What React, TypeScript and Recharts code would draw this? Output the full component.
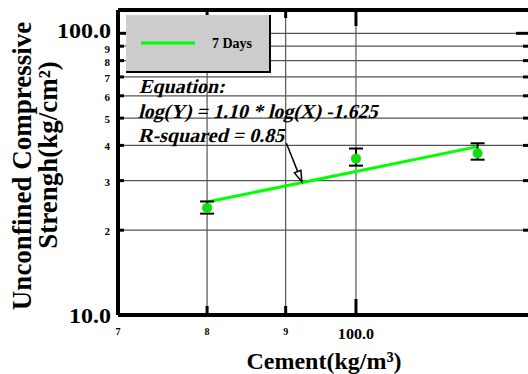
import React from "react";
import {
  ComposedChart, Line, Scatter, XAxis, YAxis, CartesianGrid, ErrorBar, ReferenceLine,
} from "recharts";

// measured 7-day strengths (kg/cm2) vs cement content (kg/m3)
const cement = [80, 100, 120];
const strength = [24.0, 35.9, 37.5];
const errLow = [1.1, 2.0, 1.9];
const errHigh = [1.3, 3.1, 3.2];

// fitted line end points
const fitX = [80, 120];
const fitY = [25.2, 39.6];

const xTicks = [70, 80, 90, 100];
const xTickLabels = ["7", "8", "9", "100.0"];
const yTicks = [10, 20, 30, 40, 50, 60, 70, 80, 90, 100];
const yTickLabels = ["10.0", "2", "3", "4", "5", "6", "7", "8", "9", "100.0"];

const arrowFrom = { x: 90.1, y: 40.7 };
const arrowTo = { x: 92.2, y: 29.7 };

const points = cement.map((c, i) => ({ x: c, y: strength[i], err: [errLow[i], errHigh[i]] }));
const fit = fitX.map((x, i) => ({ x, y: fitY[i] }));

const FONT = "Liberation Serif";
const GREEN = "#00ff00";

const YTick = (props: any) => {
  const { x, y, payload } = props;
  const i = yTicks.indexOf(payload.value);
  const big = payload.value === 10 || payload.value === 100;
  const dy = payload.value === 100 ? 5 : big ? 8 : payload.value === 90 ? 7 : 5;
  return (
    <g>
      {payload.value !== 10 && (
        <line x1={x} y1={y} x2={x + (big ? 10 : 6)} y2={y} stroke="#000" strokeWidth={3} />
      )}
      <text
        transform={`translate(${big ? x - 7 : x - 8},${y + dy}) scale(${big ? 1.2 : 1},1)`}
        textAnchor="end"
        fontFamily={FONT}
        fontWeight="bold"
        fontSize={big ? 20 : 11}
        fill="#000"
      >
        {yTickLabels[i]}
      </text>
    </g>
  );
};

const RightTick = (props: any) => {
  const { x, y, payload } = props;
  if (payload.value === 10) return <g />;
  return <line x1={x} y1={y} x2={x - (payload.value === 100 ? 15 : 8)} y2={y} stroke="#000" strokeWidth={3} />;
};

const XTick = (props: any) => {
  const { x, y, payload } = props;
  const i = xTicks.indexOf(payload.value);
  const big = payload.value === 100;
  return (
    <g>
      {payload.value !== 70 && (
        <line x1={x} y1={y} x2={x} y2={y - (big ? 16 : 9)} stroke="#000" strokeWidth={3} />
      )}
      <text
        transform={`translate(${x},${y + (big ? 24 : 20)}) scale(${big ? 1.15 : 1},1)`}
        textAnchor="middle"
        fontFamily={FONT}
        fontWeight="bold"
        fontSize={big ? 14 : 10}
        fill="#000"
      >
        {xTickLabels[i]}
      </text>
    </g>
  );
};

const TopTick = (props: any) => {
  const { x, y, payload } = props;
  if (payload.value === 70) return <g />;
  return <line x1={x} y1={y} x2={x} y2={y + (payload.value === 100 ? 16 : 8)} stroke="#000" strokeWidth={3} />;
};

const Arrow = (props: any) => {
  const { x1, y1, x2, y2 } = props;
  if (x1 == null) return <g />;
  const a = Math.atan2(y2 - y1, x2 - x1);
  const L = 11, W = 3.5;
  const bx = x2 - L * Math.cos(a), by = y2 - L * Math.sin(a);
  const px = -Math.sin(a) * W, py = Math.cos(a) * W;
  return (
    <g>
      <line x1={x1} y1={y1} x2={bx} y2={by} stroke="#000" strokeWidth={1.5} />
      <polygon
        points={`${x2},${y2} ${bx + px},${by + py} ${bx - px},${by - py}`}
        fill="#fff"
        stroke="#000"
        strokeWidth={1.5}
      />
    </g>
  );
};

const Italic = ({ x, y, children }: any) => (
  <text
    transform={`translate(${x},${y}) skewX(-14)`}
    fontFamily={FONT}
    fontWeight="bold"
    fontSize={20}
    fill="#000"
  >
    {children}
  </text>
);

export default function App() {
  return (
    <div style={{ position: "absolute", left: 0, top: 0, width: 528, height: 374, overflow: "hidden", background: "#fff" }}>
      <ComposedChart width={532} height={374} margin={{ top: 9, right: 0, bottom: 0, left: 0 }}>
        <CartesianGrid
          xAxisId="b"
          yAxisId="l"
          stroke="#555"
          strokeWidth={1.2}
          horizontalValues={yTicks.slice(1)}
          verticalValues={xTicks.slice(1)}
        />
        <XAxis
          xAxisId="b"
          dataKey="x"
          type="number"
          scale="log"
          domain={[70, 130]}
          allowDataOverflow
          ticks={xTicks}
          height={59}
          tickSize={0}
          tickMargin={0}
          tickLine={false}
          axisLine={{ stroke: "#000", strokeWidth: 4 }}
          tick={<XTick />}
          interval={0}
        />
        <XAxis
          xAxisId="t"
          orientation="top"
          dataKey="x"
          type="number"
          scale="log"
          domain={[70, 130]}
          allowDataOverflow
          ticks={xTicks}
          height={1}
          tickSize={0}
          tickMargin={0}
          tickLine={false}
          axisLine={{ stroke: "#000", strokeWidth: 4 }}
          tick={<TopTick />}
          interval={0}
        />
        <YAxis
          yAxisId="l"
          dataKey="y"
          type="number"
          scale="log"
          domain={[10, 121]}
          allowDataOverflow
          ticks={yTicks}
          width={118}
          tickSize={0}
          tickMargin={0}
          tickLine={false}
          axisLine={{ stroke: "#000", strokeWidth: 4 }}
          tick={<YTick />}
          interval={0}
          label={{
            content: () => (
              <g fontFamily={FONT} fontWeight="bold" fontSize={27} fill="#000">
                <text x={31} y={166} textAnchor="middle" transform="rotate(-90 31 166)">Unconfined Compressive</text>
                <text x={57} y={155} textAnchor="middle" transform="rotate(-90 57 155)">Strengh(kg/cm²)</text>
              </g>
            ),
          }}
        />
        <YAxis
          yAxisId="r"
          orientation="right"
          dataKey="y"
          type="number"
          scale="log"
          domain={[10, 121]}
          allowDataOverflow
          ticks={yTicks}
          width={1}
          tickSize={0}
          tickMargin={0}
          tickLine={false}
          axisLine={false}
          tick={<RightTick />}
          interval={0}
        />
        <Line
          xAxisId="b"
          yAxisId="l"
          data={fit}
          dataKey="y"
          stroke={GREEN}
          strokeWidth={3}
          dot={false}
          isAnimationActive={false}
        />
        <Scatter
          xAxisId="b"
          yAxisId="l"
          data={points}
          dataKey="y"
          fill="#11dd11"
          shape={(p: any) => <circle cx={p.cx} cy={p.cy} r={5} fill="#11dd11" />}
          isAnimationActive={false}
        >
          <ErrorBar dataKey="err" direction="y" width={7} stroke="#000" strokeWidth={2} />
        </Scatter>
        <ReferenceLine
          xAxisId="b"
          yAxisId="l"
          segment={[arrowFrom, arrowTo]}
          shape={<Arrow />}
          ifOverflow="visible"
        />
      </ComposedChart>

      <svg width={528} height={374} style={{ position: "absolute", left: 0, top: 0, pointerEvents: "none" }}>
        <Italic x={139} y={93}>Equation:</Italic>
        <Italic x={138} y={118}>log(Y) = 1.10 * log(X) -1.625</Italic>
        <Italic x={138} y={142}>R-squared = 0.85</Italic>
        <text x={324} y={369} textAnchor="middle" fontFamily={FONT} fontWeight="bold" fontSize={24} fill="#000">
          Cement(kg/m³)
        </text>
      </svg>

      <div
        style={{
          position: "absolute",
          left: 126,
          top: 15,
          width: 143,
          height: 56,
          background: "#cccccc",
          borderRight: "2px solid #000",
          borderBottom: "2px solid #000",
        }}
      >
        <svg width={143} height={56} style={{ display: "block" }}>
          <line x1={15} y1={28} x2={69} y2={28} stroke={GREEN} strokeWidth={3} />
          <text x={86} y={33} fontFamily={FONT} fontWeight="bold" fontSize={14} fill="#000">7 Days</text>
        </svg>
      </div>
    </div>
  );
}
